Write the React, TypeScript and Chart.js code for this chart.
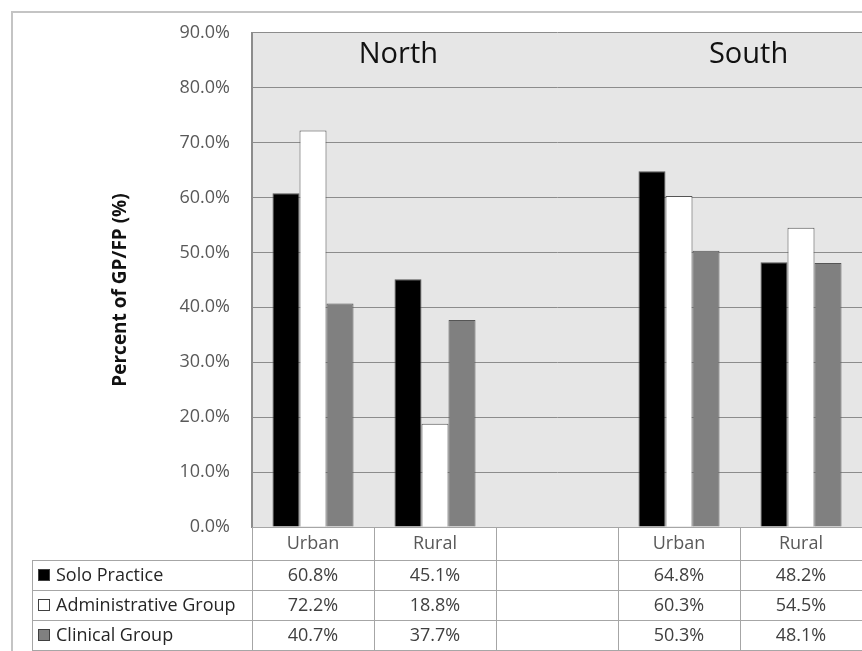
import React, { useEffect, useRef } from "react";
import { Chart, registerables } from "chart.js";

Chart.register(...registerables);

const categories = ["Urban", "Rural", "", "Urban", "Rural"];
const soloPractice = [60.8, 45.1, null, 64.8, 48.2];
const administrativeGroup = [72.2, 18.8, null, 60.3, 54.5];
const clinicalGroup = [40.7, 37.7, null, 50.3, 48.1];
const seriesNames = ["Solo Practice", "Administrative Group", "Clinical Group"];
const seriesColors = ["#000000", "#ffffff", "#808080"];
const regionLabels = ["North", "South"];
const regionPositions = [0.7, 3.57];
const yTicksMax = 90;
const yTickStep = 10;
const yAxisTitle = "Percent of GP/FP (%)";

const FONT = "'Open Sans', 'DejaVu Sans', sans-serif";

const fmt = (v: number | null) => (v == null ? "" : v.toFixed(1) + "%");

const tablePlugin = {
  id: "tablePlugin",
  beforeDraw(chart: any) {
    const { ctx, chartArea } = chart;
    ctx.save();
    ctx.fillStyle = "#ffffff";
    ctx.fillRect(0, 0, chart.width, chart.height);
    ctx.strokeStyle = "#c4c4c4";
    ctx.lineWidth = 2;
    ctx.strokeRect(12, 12, chart.width + 20, chart.height + 20);
    ctx.fillStyle = "#e6e6e6";
    ctx.fillRect(chartArea.left, chartArea.top, chartArea.right - chartArea.left, chartArea.bottom - chartArea.top);
    ctx.restore();
  },
  afterDraw(chart: any) {
    const { ctx, chartArea, scales } = chart;
    const xs = scales.x;
    const ys = scales.y;
    const n = categories.length;
    const colW = (chartArea.right - chartArea.left) / n;
    const top = chartArea.bottom;
    const headerBottom = top + 33;
    const rowH = 30;
    const tableLeft = 32;
    const rows = [soloPractice, administrativeGroup, clinicalGroup];

    ctx.save();
    // region labels
    ctx.fillStyle = "#111111";
    ctx.font = `29px ${FONT}`;
    ctx.textAlign = "center";
    ctx.textBaseline = "middle";
    regionLabels.forEach((t, i) => {
      ctx.fillText(t, xs.getPixelForValue(regionPositions[i]), ys.getPixelForValue(86));
    });

    // axis title
    ctx.save();
    ctx.translate(121, 290);
    ctx.rotate(-Math.PI / 2);
    ctx.font = `bold 19px ${FONT}`;
    ctx.fillStyle = "#111111";
    ctx.fillText(yAxisTitle, 0, 0);
    ctx.restore();

    // table lines
    ctx.strokeStyle = "#a6a6a6";
    ctx.lineWidth = 1;
    const line = (x1: number, y1: number, x2: number, y2: number) => {
      ctx.beginPath();
      ctx.moveTo(x1, y1);
      ctx.lineTo(x2, y2);
      ctx.stroke();
    };
    const bottom = headerBottom + rowH * rows.length;
    line(chartArea.left, top + 0.5, chartArea.right, top + 0.5);
    for (let r = 0; r <= rows.length; r++) {
      const y = Math.round(headerBottom + r * rowH) + 0.5;
      line(tableLeft, y, chartArea.right, y);
    }
    line(tableLeft + 0.5, headerBottom, tableLeft + 0.5, bottom);
    for (let c = 0; c <= n; c++) {
      const x = Math.round(chartArea.left + c * colW) + 0.5;
      line(x, top, x, bottom);
    }

    // header labels
    ctx.font = `18px ${FONT}`;
    ctx.fillStyle = "#595959";
    ctx.textAlign = "center";
    categories.forEach((c, i) => {
      ctx.fillText(c, xs.getPixelForValue(i), top + 17);
    });

    // rows
    rows.forEach((vals, r) => {
      const yMid = headerBottom + r * rowH + rowH / 2;
      // legend key
      ctx.fillStyle = seriesColors[r];
      ctx.strokeStyle = "#404040";
      ctx.fillRect(38, yMid - 6, 12, 12);
      ctx.strokeRect(38.5, yMid - 5.5, 11, 11);
      ctx.fillStyle = "#262626";
      ctx.textAlign = "left";
      ctx.font = `18px ${FONT}`;
      ctx.fillText(seriesNames[r], 56, yMid + 1);
      ctx.fillStyle = "#404040";
      ctx.textAlign = "center";
      vals.forEach((v, i) => {
        ctx.fillText(fmt(v), xs.getPixelForValue(i), yMid + 1);
      });
    });
    ctx.restore();
  },
};

export default function App() {
  const ref = useRef<HTMLCanvasElement | null>(null);
  useEffect(() => {
    if (!ref.current) return;
    const mk = (label: string, data: (number | null)[], color: string) => ({
      label,
      data,
      backgroundColor: color,
      borderColor: "#555555",
      borderWidth: 1,
      categoryPercentage: 0.664,
      barPercentage: 1.0,
    });
    const chart = new Chart(ref.current, {
      type: "bar",
      data: {
        labels: categories,
        datasets: [
          mk(seriesNames[0], soloPractice, seriesColors[0]),
          mk(seriesNames[1], administrativeGroup, seriesColors[1]),
          mk(seriesNames[2], clinicalGroup, seriesColors[2]),
        ],
      },
      options: {
        responsive: false,
        animation: false,
        layout: { padding: { top: 31, bottom: 124, left: 0, right: 0 } },
        plugins: { legend: { display: false }, tooltip: { enabled: false } },
        scales: {
          x: { display: false },
          y: {
            min: 0,
            max: yTicksMax,
            afterFit: (s: any) => {
              s.width = 252;
            },
            ticks: {
              stepSize: yTickStep,
              padding: 22,
              color: "#595959",
              font: { family: FONT, size: 18 },
              callback: (v: any) => Number(v).toFixed(1) + "%",
            },
            grid: { color: "#8c8c8c", lineWidth: 1, drawTicks: false },
            border: { color: "#8c8c8c", width: 2 },
          },
        },
      },
      plugins: [tablePlugin],
    });
    return () => chart.destroy();
  }, []);
  return (
    <div style={{ position: "absolute", left: 0, top: 0, width: 862, height: 651 }}>
      <canvas ref={ref} width={862} height={651} style={{ display: "block" }} />
    </div>
  );
}
